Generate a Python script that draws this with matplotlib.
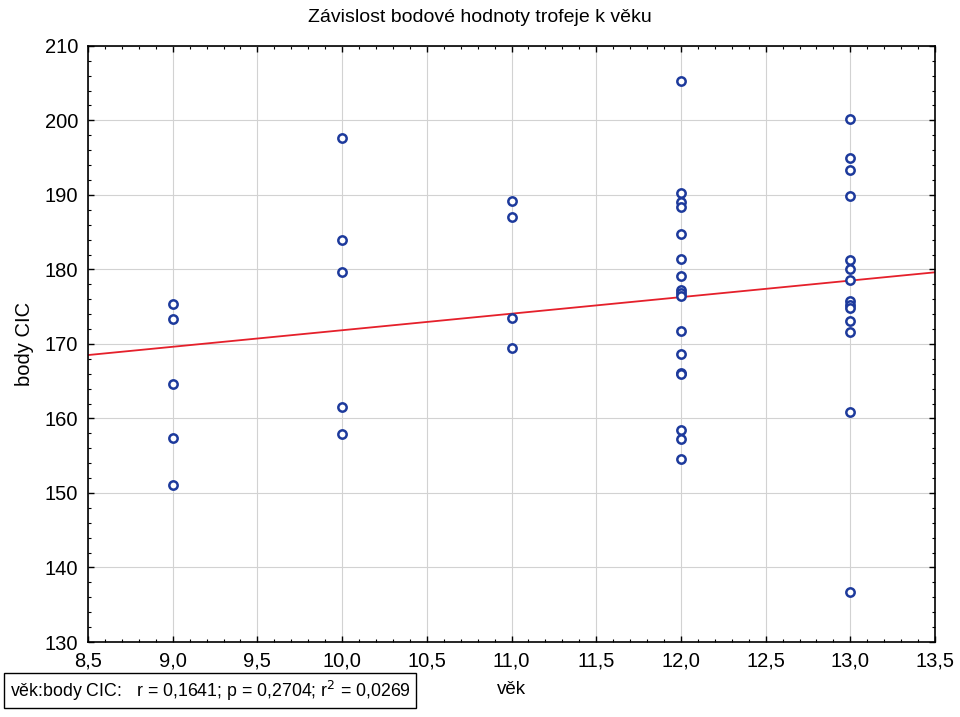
import numpy as np
import matplotlib.pyplot as plt
from matplotlib.ticker import MultipleLocator

plt.rcParams['font.family'] = ['Liberation Sans', 'DejaVu Sans']

# body CIC podle věku
vek_9 = [175.4, 173.4, 164.6, 157.4, 151.1]
vek_10 = [197.7, 184.0, 179.7, 161.5, 157.9]
vek_11 = [189.2, 187.0, 173.5, 169.4]
vek_12 = [205.3, 190.2, 189.0, 188.4, 184.7, 181.4, 179.1, 177.2, 176.8, 176.4,
          171.7, 168.7, 166.1, 165.9, 158.5, 157.2, 154.5]
vek_13 = [200.2, 195.0, 193.3, 189.9, 181.3, 180.1, 178.6, 175.8, 175.2, 174.8,
          173.1, 171.6, 160.9, 136.7]

skupiny = {9: vek_9, 10: vek_10, 11: vek_11, 12: vek_12, 13: vek_13}
x = np.concatenate([[k] * len(v) for k, v in skupiny.items()]).astype(float)
y = np.concatenate([v for v in skupiny.values()])

fig = plt.figure(figsize=(9.6, 7.17), dpi=100)
ax = fig.add_axes([0.0917, 0.1046, 0.8823, 0.8314])

ax.plot(x, y, 'o', ms=6, mfc='white', mec='#1d3a9c', mew=1.8, zorder=3)

k, q = np.polyfit(x, y, 1)
xl = np.array([8.5, 13.5])
ax.plot(xl, k * xl + q, color='#e5202b', lw=1.3, zorder=2)

ax.set_xlim(8.5, 13.5)
ax.set_ylim(130, 210)
ax.xaxis.set_major_locator(MultipleLocator(0.5))
ax.xaxis.set_minor_locator(MultipleLocator(0.1))
ax.yaxis.set_major_locator(MultipleLocator(10))
ax.yaxis.set_minor_locator(MultipleLocator(2))
xt = np.arange(8.5, 13.51, 0.5)
ax.set_xticks(xt)
ax.set_xticklabels([('%.1f' % v).replace('.', ',') for v in xt])
ax.tick_params(which='both', direction='in', top=True, right=True, labelsize=14.5, colors='black')
ax.tick_params(which='major', length=4, width=1, pad=7)
ax.tick_params(which='minor', length=2, width=0.8)
ax.grid(True, which='major', color='#d2d2d2', lw=0.8)
for s in ax.spines.values():
    s.set_linewidth(1.2)

fig.text(0.5, 0.975, 'Závislost bodové hodnoty trofeje k věku', fontsize=14,
         ha='center', va='center')
ax.set_ylabel('body CIC', fontsize=14.5, labelpad=8)
fig.text(0.533, 0.038, 'věk', fontsize=13.5, ha='center', va='center')

fig.text(0.01, 0.037, 'věk:body CIC:   r = 0,1641; p = 0,2704; r$^2$ = 0,0269',
         fontsize=12.8, ha='left', va='center',
         bbox=dict(boxstyle='square,pad=0.3', fc='white', ec='black', lw=1))

fig.savefig('out.png', dpi=100)
